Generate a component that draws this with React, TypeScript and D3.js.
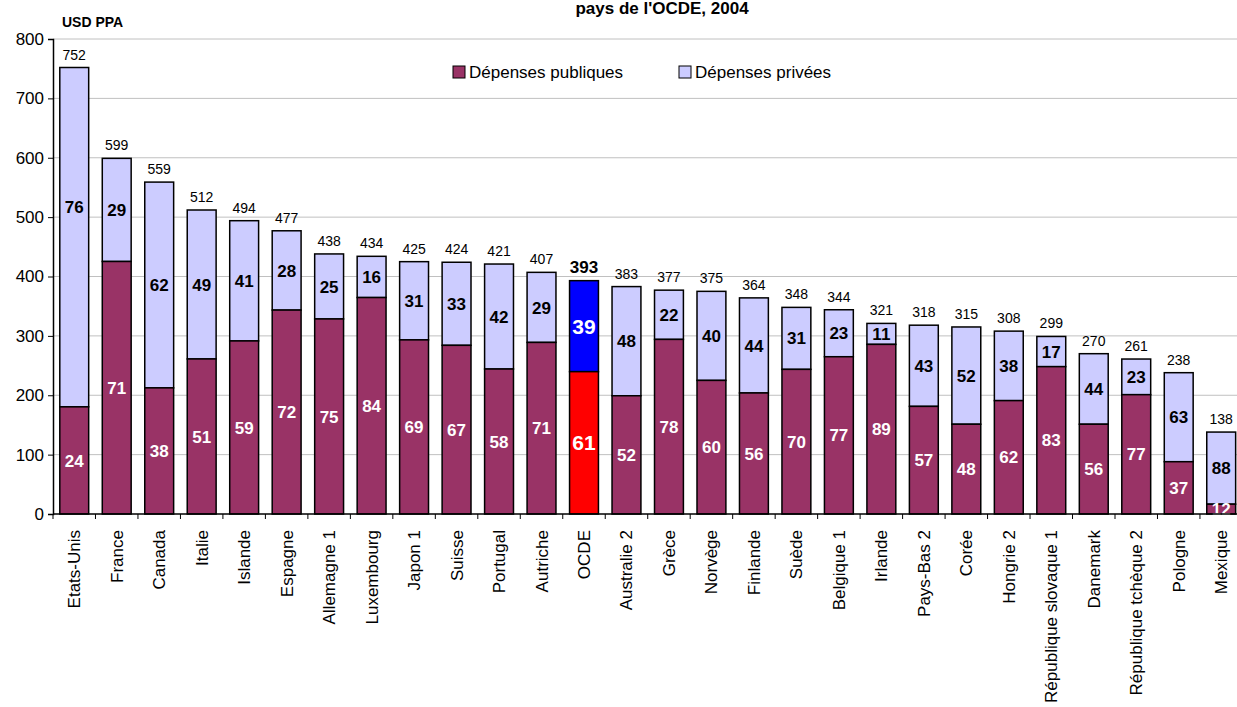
import React, { useRef, useEffect } from 'react';
import * as d3 from 'd3';

// Dépenses par élève, part publique / privée (en %), pays de l'OCDE, 2004
const countries = [
  'Etats-Unis', 'France', 'Canada', 'Italie', 'Islande', 'Espagne', 'Allemagne 1',
  'Luxembourg', 'Japon 1', 'Suisse', 'Portugal', 'Autriche', 'OCDE', 'Australie 2',
  'Grèce', 'Norvège', 'Finlande', 'Suède', 'Belgique 1', 'Irlande', 'Pays-Bas 2',
  'Corée', 'Hongrie 2', 'République slovaque 1', 'Danemark', 'République tchèque 2',
  'Pologne', 'Mexique',
];
const totals = [
  752, 599, 559, 512, 494, 477, 438, 434, 425, 424, 421, 407, 393, 383,
  377, 375, 364, 348, 344, 321, 318, 315, 308, 299, 270, 261, 238, 138,
];
const publicShare = [
  24, 71, 38, 51, 59, 72, 75, 84, 69, 67, 58, 71, 61, 52,
  78, 60, 56, 70, 77, 89, 57, 48, 62, 83, 56, 77, 37, 12,
];
const privateShare = [
  76, 29, 62, 49, 41, 28, 25, 16, 31, 33, 42, 29, 39, 48,
  22, 40, 44, 31, 23, 11, 43, 52, 38, 17, 44, 23, 63, 88,
];
const yTicks = [0, 100, 200, 300, 400, 500, 600, 700, 800];

const W = 1237;
const H = 707;
const FONT = 'Arial, "Liberation Sans", sans-serif';
const PUB = '#993366';
const PRIV = '#CCCCFF';

export default function App() {
  const svgRef = useRef<SVGSVGElement>(null);

  useEffect(() => {
    if (!svgRef.current) return;
    const svg = d3.select(svgRef.current);
    svg.selectAll('*').remove();

    const left = 53;
    const bottom = 514;
    const top = 39;
    const bandW = 42.48;

    const x = d3.scaleBand<string>()
      .domain(countries)
      .range([left, left + bandW * countries.length])
      .paddingInner(0.32)
      .paddingOuter(0.16);
    const y = d3.scaleLinear().domain([0, 800]).range([bottom, top]);

    const rows = countries.map((c, i) => ({
      name: c,
      total: totals[i],
      pub: publicShare[i],
      priv: privateShare[i],
      pubVal: (totals[i] * publicShare[i]) / 100,
      oecd: c === 'OCDE',
    }));

    // title (sits at the very top edge in the original)
    svg.append('text')
      .attr('x', 662).attr('y', 14)
      .attr('text-anchor', 'middle')
      .attr('font-family', FONT).attr('font-weight', 'bold').attr('font-size', 17)
      .text("pays de l'OCDE, 2004");

    svg.append('text')
      .attr('x', 62).attr('y', 27)
      .attr('font-family', FONT).attr('font-weight', 'bold').attr('font-size', 14)
      .text('USD PPA');

    // gridlines
    svg.append('g')
      .selectAll('line')
      .data(yTicks.filter(t => t > 0))
      .enter().append('line')
      .attr('x1', left).attr('x2', W)
      .attr('y1', d => y(d)).attr('y2', d => y(d))
      .attr('stroke', '#c0c0c0').attr('stroke-width', 1);

    // y axis
    const yAxis = svg.append('g')
      .attr('transform', `translate(${left},0)`)
      .call(d3.axisLeft(y).tickValues(yTicks).tickSize(5).tickPadding(4));
    yAxis.select('.domain').attr('stroke', '#000').attr('stroke-width', 1.5);
    yAxis.selectAll('.tick line').attr('stroke', '#000');
    yAxis.selectAll('text')
      .attr('font-family', FONT).attr('font-size', 17).attr('fill', '#000');

    // bars
    const g = svg.append('g');
    const bw = x.bandwidth();

    g.selectAll('rect.priv')
      .data(rows).enter().append('rect')
      .attr('class', 'priv')
      .attr('x', d => x(d.name)!)
      .attr('width', bw)
      .attr('y', d => y(d.total))
      .attr('height', d => y(d.pubVal) - y(d.total))
      .attr('fill', d => (d.oecd ? '#0000FF' : PRIV))
      .attr('stroke', '#000').attr('stroke-width', 1.5);

    g.selectAll('rect.pub')
      .data(rows).enter().append('rect')
      .attr('class', 'pub')
      .attr('x', d => x(d.name)!)
      .attr('width', bw)
      .attr('y', d => y(d.pubVal))
      .attr('height', d => y(0) - y(d.pubVal))
      .attr('fill', d => (d.oecd ? '#FF0000' : PUB))
      .attr('stroke', '#000').attr('stroke-width', 1.5);

    const cx = (d: { name: string }) => x(d.name)! + bw / 2;

    // totals above bars
    g.selectAll('text.total')
      .data(rows).enter().append('text')
      .attr('x', cx)
      .attr('y', d => y(d.total) - 8)
      .attr('text-anchor', 'middle')
      .attr('font-family', FONT)
      .attr('font-size', d => (d.oecd ? 17 : 14))
      .attr('font-weight', d => (d.oecd ? 'bold' : 'normal'))
      .text(d => d.total);

    // private share labels (US label sits higher in the original)
    g.selectAll('text.privLbl')
      .data(rows).enter().append('text')
      .attr('x', cx)
      .attr('y', d => {
        const mid = (y(d.total) + y(d.pubVal)) / 2;
        return d.name === 'Etats-Unis' ? mid - 30 : mid;
      })
      .attr('dy', '0.36em')
      .attr('text-anchor', 'middle')
      .attr('font-family', FONT).attr('font-weight', 'bold')
      .attr('font-size', d => (d.oecd ? 21 : 17))
      .attr('fill', d => (d.oecd ? '#fff' : '#000'))
      .text(d => d.priv);

    // public share labels
    g.selectAll('text.pubLbl')
      .data(rows).enter().append('text')
      .attr('x', cx)
      .attr('y', d => (y(0) + y(d.pubVal)) / 2)
      .attr('dy', '0.36em')
      .attr('text-anchor', 'middle')
      .attr('font-family', FONT).attr('font-weight', 'bold')
      .attr('font-size', d => (d.oecd ? 21 : 17))
      .attr('fill', '#fff')
      .text(d => d.pub);

    // x axis
    const xAxis = svg.append('g')
      .attr('transform', `translate(0,${bottom})`);
    xAxis.append('line')
      .attr('x1', left).attr('x2', W)
      .attr('y1', 0).attr('y2', 0)
      .attr('stroke', '#000').attr('stroke-width', 1.5);
    xAxis.selectAll('line.tick')
      .data(d3.range(countries.length + 1))
      .enter().append('line')
      .attr('class', 'tick')
      .attr('x1', i => left + bandW * i).attr('x2', i => left + bandW * i)
      .attr('y1', 0).attr('y2', 5)
      .attr('stroke', '#000');
    xAxis.selectAll('text')
      .data(countries).enter().append('text')
      .attr('transform', d => `translate(${x(d)! + bw / 2 + 6},${16}) rotate(-90)`)
      .attr('text-anchor', 'end')
      .attr('font-family', FONT).attr('font-size', 17)
      .text(d => d);

    // legend
    const legend = svg.append('g').attr('font-family', FONT).attr('font-size', 17);
    const items = [
      { label: 'Dépenses publiques', color: PUB, x: 453 },
      { label: 'Dépenses privées', color: PRIV, x: 679 },
    ];
    items.forEach(it => {
      legend.append('rect')
        .attr('x', it.x).attr('y', 66).attr('width', 12).attr('height', 12)
        .attr('fill', it.color).attr('stroke', '#000').attr('stroke-width', 1);
      legend.append('text')
        .attr('x', it.x + 16).attr('y', 78)
        .text(it.label);
    });
  }, []);

  return (
    <svg
      ref={svgRef}
      width={W}
      height={H}
      style={{ position: 'absolute', left: 0, top: 0, background: '#fff' }}
    />
  );
}
